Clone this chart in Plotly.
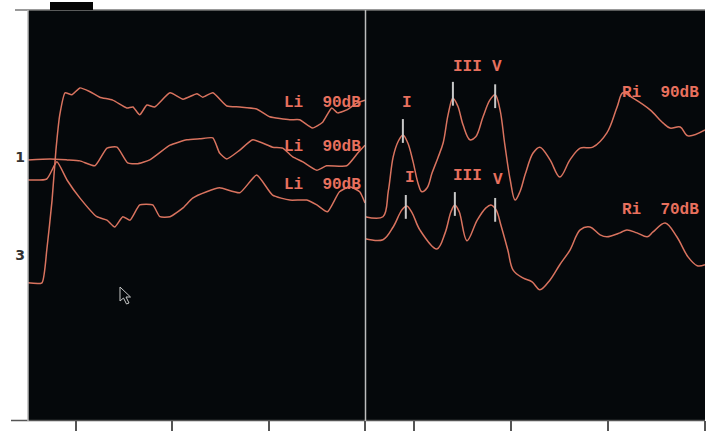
import plotly.graph_objects as go

# ---- Left-ear recordings (latency in ms, amplitude in display units) ----
li_top_t = [0, 0.29, 0.39, 0.50, 0.58, 0.66, 0.77, 0.91, 1.08, 1.29, 1.49, 1.76, 2.05, 2.18,
            2.32, 2.47, 2.63, 2.95, 3.22, 3.51, 3.63, 3.84, 4.13, 4.40, 4.75, 5.02, 5.44,
            5.64, 5.91, 6.12, 6.31, 6.43, 6.62, 6.83, 7.0]
li_top_v = [3.57, 3.57, 2.90, 1.88, 0.86, 0.14, -0.31, -0.27, -0.41, -0.33, -0.22, -0.16,
            0.00, -0.02, 0.14, -0.06, -0.02, -0.31, -0.18, -0.29, -0.22, -0.31, -0.04, -0.02,
            0.02, 0.18, 0.24, 0.24, 0.41, 0.29, 0.00, 0.10, 0.04, -0.10, -0.16]

li_mid_t = [0, 0.46, 0.81, 1.08, 1.39, 1.64, 1.85, 2.07, 2.26, 2.53, 2.95, 3.30, 3.57, 3.84,
            3.98, 4.13, 4.40, 4.67, 5.08, 5.29, 5.50, 5.71, 6.00, 6.20, 6.62, 6.85, 7.0]
li_mid_v = [1.06, 1.04, 1.06, 1.08, 1.18, 0.82, 0.80, 1.12, 1.14, 1.06, 0.76, 0.65, 0.63,
            0.61, 0.92, 1.04, 0.86, 0.65, 0.80, 0.82, 1.00, 1.10, 1.27, 1.18, 1.18, 0.92, 0.76]

li_low_t = [0, 0.39, 0.60, 0.81, 1.08, 1.43, 1.64, 1.80, 1.97, 2.12, 2.32, 2.59, 2.74, 2.95,
            3.22, 3.42, 3.71, 3.98, 4.40, 4.75, 5.08, 5.44, 5.79, 6.00, 6.22, 6.47, 6.68,
            6.89, 7.0]
li_low_v = [1.47, 1.45, 1.10, 1.47, 1.84, 2.22, 2.29, 2.43, 2.22, 2.29, 1.98, 1.98, 2.22,
            2.22, 2.04, 1.84, 1.71, 1.63, 1.73, 1.37, 1.78, 1.88, 1.88, 1.98, 2.12, 1.71,
            1.61, 1.71, 1.94]

# ---- Right-ear recordings ----
ri90_t = [0, 0.37, 0.48, 0.58, 0.68, 0.78, 0.88, 0.99, 1.09, 1.17, 1.28, 1.38, 1.50, 1.61,
          1.71, 1.81, 1.91, 2.02, 2.16, 2.28, 2.43, 2.57, 2.68, 2.78, 2.88, 2.99, 3.09,
          3.19, 3.30, 3.46, 3.60, 3.81, 4.01, 4.22, 4.43, 4.69, 4.98, 5.19, 5.31, 5.52,
          5.87, 6.14, 6.28, 6.49, 6.65, 7.0]
ri90_v = [2.22, 2.22, 1.70, 1.00, 0.69, 0.55, 0.71, 1.10, 1.53, 1.71, 1.63, 1.33, 1.02,
          0.71, 0.14, -0.20, -0.04, 0.35, 0.65, 0.59, 0.18, -0.16, -0.27, 0.04, 0.76, 1.47,
          1.88, 1.71, 1.35, 0.92, 0.80, 1.06, 1.41, 1.06, 0.82, 0.80, 0.51, -0.02, -0.31,
          -0.20, 0.04, 0.31, 0.41, 0.39, 0.57, 0.45]

ri70_t = [0, 0.37, 0.58, 0.76, 0.86, 0.97, 1.13, 1.48, 1.65, 1.77, 1.85, 1.94, 2.10, 2.31,
          2.49, 2.59, 2.70, 2.80, 2.94, 3.05, 3.25, 3.44, 3.60, 3.81, 4.01, 4.22, 4.43,
          4.63, 4.84, 4.98, 5.25, 5.39, 5.60, 5.81, 5.93, 6.18, 6.42, 6.65, 6.84, 7.0]
ri70_v = [2.67, 2.69, 2.43, 2.08, 2.00, 2.14, 2.49, 2.88, 2.55, 2.12, 1.98, 2.12, 2.71,
          2.29, 2.04, 1.98, 2.08, 2.40, 2.90, 3.31, 3.47, 3.55, 3.71, 3.51, 3.20, 2.90,
          2.49, 2.43, 2.59, 2.63, 2.55, 2.49, 2.55, 2.63, 2.53, 2.35, 2.63, 3.04, 3.22, 3.20]

# Wave I / III / V markers
wave_names = ["I", "III", "V"]
ri90_peak_t = [0.78, 1.81, 2.68]
ri90_peak_v = [0.47, -0.29, -0.24]
ri70_peak_t = [0.84, 1.85, 2.68]
ri70_peak_v = [2.02, 1.96, 2.08]

# Channel labels on the amplitude axis
channel_vals = [1, 3]
channel_text = ["1", "3"]
time_ticks = [1, 3, 5, 7]

W, H = 713, 431
TRACE = "#d9735f"
LABEL = "#e8705e"
BG = "#05080b"


def px(x):
    return x / W


def py(y):
    return 1 - y / H


fig = go.Figure()

for t, v in [(li_top_t, li_top_v), (li_mid_t, li_mid_v), (li_low_t, li_low_v)]:
    fig.add_trace(go.Scatter(x=t, y=v, mode="lines", xaxis="x", yaxis="y",
                             line=dict(color=TRACE, width=1.5, shape="spline", smoothing=0.5),
                             hoverinfo="skip"))

for t, v in [(ri90_t, ri90_v), (ri70_t, ri70_v)]:
    fig.add_trace(go.Scatter(x=t, y=v, mode="lines", xaxis="x2", yaxis="y",
                             line=dict(color=TRACE, width=1.5, shape="spline", smoothing=1.0),
                             hoverinfo="skip"))

for t, v in [(ri90_peak_t, ri90_peak_v), (ri70_peak_t, ri70_peak_v)]:
    fig.add_trace(go.Scatter(x=t, y=v, mode="markers", xaxis="x2", yaxis="y",
                             marker=dict(symbol="line-ns", size=17,
                                         line=dict(color="#c9c9c9", width=2)),
                             hoverinfo="skip"))

mono = dict(family="Liberation Mono", size=16, color=LABEL)
annotations = []
for yy in [-0.10, 0.80, 1.57]:
    annotations.append(dict(x=5.28, y=yy, xref="x", yref="y", text="<b>Li  90dB</b>",
                            showarrow=False, xanchor="left", yanchor="middle", font=mono))
annotations.append(dict(x=5.25, y=-0.31, xref="x2", yref="y", text="<b>Ri  90dB</b>",
                        showarrow=False, xanchor="left", yanchor="middle", font=mono))
annotations.append(dict(x=5.25, y=2.08, xref="x2", yref="y", text="<b>Ri  70dB</b>",
                        showarrow=False, xanchor="left", yanchor="middle", font=mono))
for name, xx, yy in zip(wave_names, [0.86, 2.10, 2.72], [-0.10, -0.84, -0.84]):
    annotations.append(dict(x=xx, y=yy, xref="x2", yref="y", text=f"<b>{name}</b>",
                            showarrow=False, font=mono))
for name, xx, yy in zip(wave_names, [0.93, 2.12, 2.74], [1.43, 1.39, 1.47]):
    annotations.append(dict(x=xx, y=yy, xref="x2", yref="y", text=f"<b>{name}</b>",
                            showarrow=False, font=mono))

shapes = [
    # frame lines
    dict(type="line", xref="paper", yref="paper", x0=px(15), x1=px(705), y0=py(10), y1=py(10),
         line=dict(color="#777", width=1.5)),
    dict(type="line", xref="paper", yref="paper", x0=px(11), x1=px(705), y0=py(420.5), y1=py(420.5),
         line=dict(color="#555", width=1.5)),
    dict(type="line", xref="paper", yref="paper", x0=px(28), x1=px(28), y0=py(10), y1=py(421),
         line=dict(color="#b8b8b8", width=1.5)),
    dict(type="line", xref="paper", yref="paper", x0=px(365.5), x1=px(365.5), y0=py(10), y1=py(421),
         line=dict(color="#bdbdbd", width=1.5)),
    # tab on the top edge
    dict(type="rect", xref="paper", yref="paper", x0=px(50), x1=px(93), y0=py(10), y1=py(2),
         fillcolor="#050505", line=dict(width=0)),
]

# mouse pointer
tip = (120, 287)
pointer = [(0, 0), (0, 14), (3.5, 11), (6.5, 17), (9, 16), (6, 10), (10.5, 10)]
path = "M " + " L ".join(f"{px(tip[0] + a)},{py(tip[1] + b)}" for a, b in pointer) + " Z"
shapes.append(dict(type="path", xref="paper", yref="paper", path=path,
                   fillcolor=BG, line=dict(color="#c8c8c8", width=1)))

fig.update_layout(
    width=W, height=H,
    margin=dict(l=0, r=0, t=0, b=0),
    paper_bgcolor="white", plot_bgcolor=BG,
    showlegend=False,
    xaxis=dict(domain=[px(28), px(365)], range=[0, 7], anchor="y",
               tickvals=time_ticks, ticks="outside", ticklen=11, tickwidth=1.5,
               tickcolor="#555", showticklabels=False, showgrid=False, zeroline=False),
    xaxis2=dict(domain=[px(365), px(705)], range=[0, 7], anchor="y",
                tickvals=time_ticks, ticks="outside", ticklen=11, tickwidth=1.5,
                tickcolor="#555", showticklabels=False, showgrid=False, zeroline=False),
    yaxis=dict(domain=[py(420), py(10)], range=[6.37, -2.0], anchor="x",
               tickvals=channel_vals, ticktext=[f"<b>{s}</b>" for s in channel_text],
               ticks="", showgrid=False, zeroline=False, ticklabelstandoff=2,
               tickfont=dict(family="DejaVu Sans", size=14, color="#333")),
    annotations=annotations,
    shapes=shapes,
)

fig.write_html("out.html")
